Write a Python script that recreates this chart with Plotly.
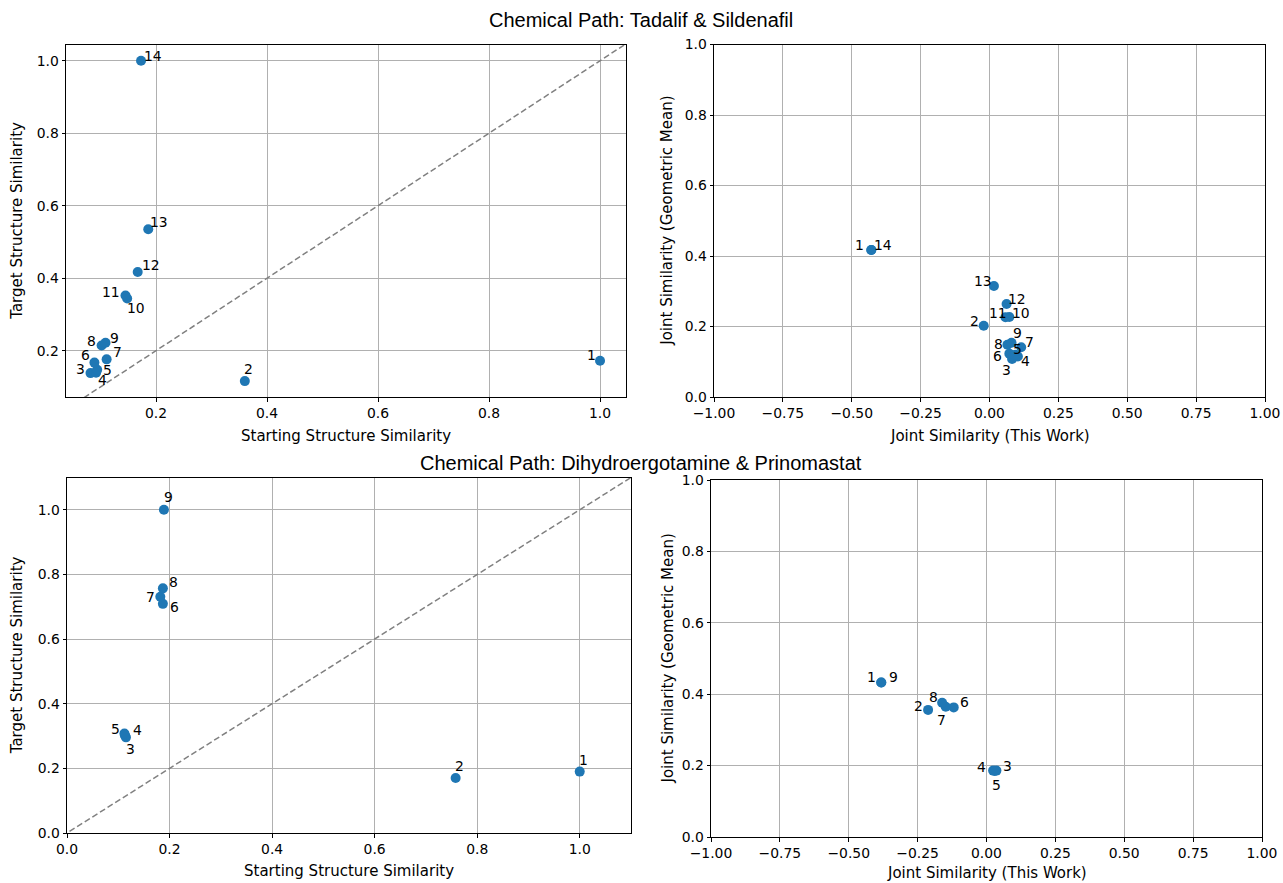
import plotly.graph_objects as go

# ---------------- data ----------------
titles = ["Chemical Path: Tadalif & Sildenafil",
          "Chemical Path: Dihydroergotamine & Prinomastat"]

labels_1 = [str(i) for i in range(1, 15)]
start_sim_1 = [1.0, 0.360, 0.082, 0.092, 0.094, 0.089, 0.111, 0.102, 0.109, 0.148, 0.145, 0.167, 0.186, 0.173]
target_sim_1 = [0.172, 0.116, 0.138, 0.139, 0.147, 0.167, 0.176, 0.214, 0.222, 0.344, 0.352, 0.417, 0.535, 1.0]
joint_this_1 = [-0.429, -0.021, 0.082, 0.103, 0.094, 0.072, 0.115, 0.065, 0.080, 0.072, 0.058, 0.062, 0.016, -0.429]
joint_geo_1 = [0.417, 0.202, 0.108, 0.115, 0.120, 0.123, 0.141, 0.148, 0.154, 0.227, 0.226, 0.264, 0.315, 0.417]

labels_2 = [str(i) for i in range(1, 10)]
start_sim_2 = [1.0, 0.758, 0.115, 0.113, 0.112, 0.187, 0.182, 0.187, 0.189]
target_sim_2 = [0.190, 0.170, 0.296, 0.302, 0.308, 0.709, 0.731, 0.757, 1.0]
joint_this_2 = [-0.382, -0.212, 0.036, 0.024, 0.030, -0.119, -0.148, -0.161, -0.382]
joint_geo_2 = [0.433, 0.356, 0.186, 0.186, 0.185, 0.363, 0.365, 0.376, 0.433]

# label offsets (pixels, right / up) -- style only
off_tl = [(-9, 6), (4, 12), (-10, 4), (6, -7), (10, 0), (-9, 8), (11, 7), (-10, 5), (9, 5),
          (9, -10), (-15, 4), (13, 7), (11, 7), (12, 5)]
off_tr = [(-12, 5), (-9, 5), (-6, -11), (8, -5), (2, 6), (-12, -2), (8, 5), (-9, 1), (6, 10),
          (12, 4), (-7, 4), (10, 5), (-11, 5), (12, 5)]
off_bl = [(4, 12), (4, 12), (5, -12), (13, 5), (-9, 4), (12, -3), (-10, 0), (11, 6), (5, 13)]
off_br = [(-10, 5), (-10, 4), (11, 5), (-12, 4), (2, -14), (11, 5), (-4, -13), (-9, 6), (12, 5)]

# ---------------- figure ----------------
W, H = 1283, 883
BLUE = "#1f77b4"
TICKFONT = dict(family="DejaVu Sans", size=13.9, color="black")
LABELFONT = dict(family="DejaVu Sans", size=15, color="black")
fig = go.Figure()


def dom_x(a, b):
    return [a / W, b / W]


def dom_y(top, bottom):
    return [1 - bottom / H, 1 - top / H]


# (xaxis, yaxis, x, y, labels, offsets, x px span, y px span, xrange, yrange, xticks, yticks,
#  xtitle, ytitle, diag, xfmt, xtitle y px, ytitle x px)
panels = [
    ("x", "y", start_sim_1, target_sim_1, labels_1, off_tl, (66, 626), (44.5, 397),
     [0.0378, 1.0468], [0.0721, 1.0448], [0.2, 0.4, 0.6, 0.8, 1.0], [0.2, 0.4, 0.6, 0.8, 1.0],
     "Starting Structure Similarity", "Target Structure Similarity", True, ".1f", 436, 17),
    ("x2", "y2", joint_this_1, joint_geo_1, labels_1, off_tr, (714, 1265), (44.5, 397),
     [-1, 1], [0, 1], [-1, -0.75, -0.5, -0.25, 0, 0.25, 0.5, 0.75, 1.0], [0, 0.2, 0.4, 0.6, 0.8, 1.0],
     "Joint Similarity (This Work)", "Joint Similarity (Geometric Mean)", False, ".2f", 436, 667),
    ("x3", "y3", start_sim_2, target_sim_2, labels_2, off_bl, (67, 631), (477.5, 833),
     [0, 1.1], [0, 1.1], [0, 0.2, 0.4, 0.6, 0.8, 1.0], [0, 0.2, 0.4, 0.6, 0.8, 1.0],
     "Starting Structure Similarity", "Target Structure Similarity", True, ".1f", 871, 17),
    ("x4", "y4", joint_this_2, joint_geo_2, labels_2, off_br, (711, 1262), (480, 837),
     [-1, 1], [0, 1], [-1, -0.75, -0.5, -0.25, 0, 0.25, 0.5, 0.75, 1.0], [0, 0.2, 0.4, 0.6, 0.8, 1.0],
     "Joint Similarity (This Work)", "Joint Similarity (Geometric Mean)", False, ".2f", 873, 667),
]

annotations = []
for (xa, ya, xs, ys, labs, offs, xpx, ypx, xr, yr, xt, yt, xtitle, ytitle, diag, xfmt,
     xty, ytx) in panels:
    if diag:
        fig.add_trace(go.Scatter(x=[-0.5, 1.5], y=[-0.5, 1.5], mode="lines", xaxis=xa, yaxis=ya,
                                 line=dict(color="gray", width=1.5, dash="6px,3px"),
                                 hoverinfo="skip", showlegend=False))
    fig.add_trace(go.Scatter(x=xs, y=ys, mode="markers", xaxis=xa, yaxis=ya,
                             marker=dict(color=BLUE, size=10, line=dict(width=0)),
                             text=labs, showlegend=False, cliponaxis=False))
    for xv, yv, lab, (dx, dy) in zip(xs, ys, labs, offs):
        annotations.append(dict(x=xv, y=yv, xref=xa, yref=ya, text=lab, showarrow=False,
                                xshift=dx, yshift=dy, xanchor="center", yanchor="middle",
                                font=dict(family="DejaVu Sans", size=13.9, color="black")))
    xkey = "xaxis" + xa[1:]
    ykey = "yaxis" + ya[1:]
    common = dict(showline=True, mirror=True, linecolor="black", linewidth=1,
                  showgrid=True, gridcolor="#b0b0b0", gridwidth=0.8, zeroline=False,
                  ticks="outside", ticklen=3.5, tickwidth=1, tickcolor="black",
                  tickfont=TICKFONT, automargin=False)
    fig.update_layout({
        xkey: dict(domain=dom_x(*xpx), range=xr, tickvals=xt, tickformat=xfmt, anchor=ya, **common),
        ykey: dict(domain=dom_y(*ypx), range=yr, tickvals=yt, tickformat=".1f", anchor=xa, **common),
    })
    # axis titles
    annotations.append(dict(x=(xpx[0] + xpx[1]) / 2 / W, y=1 - xty / H, xref="paper", yref="paper",
                            text=xtitle, showarrow=False, xanchor="center", yanchor="middle",
                            font=LABELFONT))
    annotations.append(dict(x=ytx / W, y=1 - (ypx[0] + ypx[1]) / 2 / H, xref="paper", yref="paper",
                            text=ytitle, showarrow=False, xanchor="center", yanchor="middle",
                            textangle=-90, font=LABELFONT))

annotations.append(dict(x=641 / W, y=1 - 20 / H, xref="paper", yref="paper", text=titles[0],
                        showarrow=False, xanchor="center", yanchor="middle",
                        font=dict(family="Liberation Sans", size=20, color="black")))
annotations.append(dict(x=641 / W, y=1 - 463 / H, xref="paper", yref="paper", text=titles[1],
                        showarrow=False, xanchor="center", yanchor="middle",
                        font=dict(family="Liberation Sans", size=20, color="black")))

fig.update_layout(width=W, height=H, margin=dict(l=0, r=0, t=0, b=0),
                  paper_bgcolor="white", plot_bgcolor="white",
                  annotations=annotations, showlegend=False)

fig.write_html("out.html")
